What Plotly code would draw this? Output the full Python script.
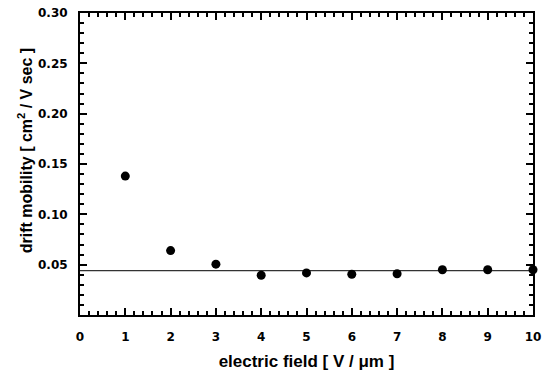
import plotly.graph_objects as go

field = [1, 2, 3, 4, 5, 6, 7, 8, 9, 10]
mobility = [0.138, 0.064, 0.0505, 0.0395, 0.0418, 0.0405, 0.041, 0.045, 0.045, 0.045]
fit_x = [0, 10]
fit_y = [0.044, 0.044]
x_ticks = [0, 1, 2, 3, 4, 5, 6, 7, 8, 9, 10]
y_ticks = [0.05, 0.10, 0.15, 0.20, 0.25, 0.30]

fig = go.Figure()
fig.add_trace(go.Scatter(x=fit_x, y=fit_y, mode="lines",
                         line=dict(color="#333333", width=1.2), showlegend=False))
fig.add_trace(go.Scatter(x=field, y=mobility, mode="markers", cliponaxis=False,
                         marker=dict(symbol="circle", size=9, color="black"),
                         showlegend=False))

tfont = dict(family="Liberation Sans, Arial, sans-serif", color="black", weight="bold")
kfont = dict(family="DejaVu Sans, sans-serif", color="black", weight="bold", size=12)
fig.update_layout(
    width=544, height=374,
    margin=dict(l=80, r=11, t=13, b=59),
    plot_bgcolor="white", paper_bgcolor="white",
    xaxis=dict(range=[0, 10], tickvals=x_ticks, ticktext=[str(v) for v in x_ticks],
               automargin=False, ticklabeloverflow="allow",
               ticks="inside", ticklen=7, tickwidth=2, tickcolor="black",
               showline=True, linewidth=2, linecolor="black", mirror="ticks",
               showgrid=False, zeroline=False, ticklabelstandoff=10,
               minor=dict(dtick=0.2, ticks="inside", ticklen=4, tickwidth=1.5, tickcolor="black"),
               tickfont=kfont,
               title=dict(text="electric field [ V / μm ]", font=dict(size=17, **tfont),
                          standoff=12)),
    yaxis=dict(range=[0, 0.30], tickvals=y_ticks, ticktext=["%.2f" % v for v in y_ticks],
               automargin=False, ticklabeloverflow="allow",
               ticks="inside", ticklen=7, tickwidth=2, tickcolor="black",
               showline=True, linewidth=2, linecolor="black", mirror="ticks",
               showgrid=False, zeroline=False, ticklabelstandoff=8,
               minor=dict(dtick=0.01, ticks="inside", ticklen=4, tickwidth=1.5, tickcolor="black"),
               tickfont=kfont),
    annotations=[dict(text="drift mobility [ cm<sup>2</sup> / V sec ]", textangle=-90,
                      xref="paper", yref="paper", x=-0.121, y=0.543,
                      xanchor="center", yanchor="middle", showarrow=False,
                      font=dict(size=16, **tfont))],
)
fig.write_html("out.html", config={"displayModeBar": False},
               post_script="document.body.style.margin='0';document.body.style.overflow='hidden';")
